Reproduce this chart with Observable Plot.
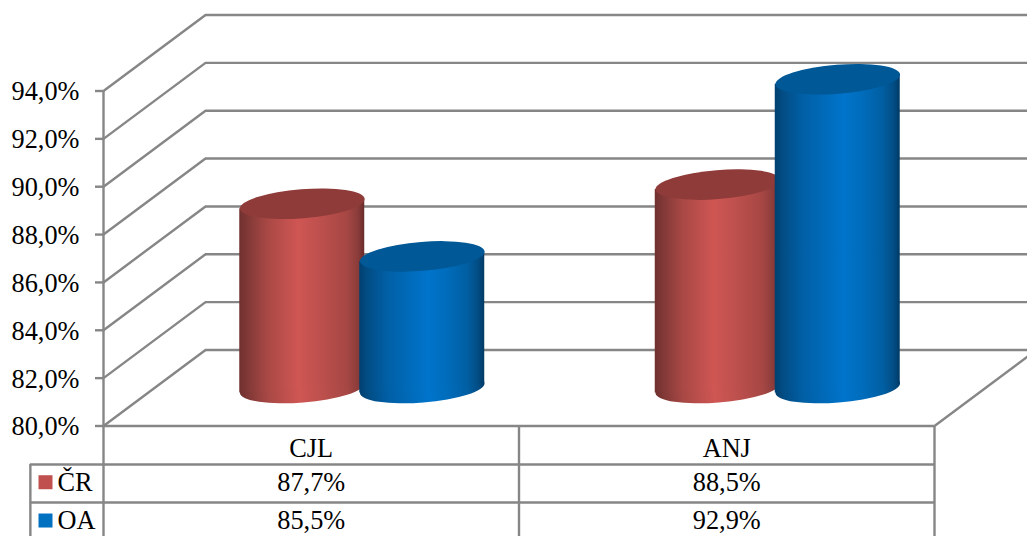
<!DOCTYPE html>
<html>
<head>
<meta charset="utf-8">
<style>
html,body{margin:0;padding:0;background:#fff;overflow:hidden}
</style>
<script src="https://cdn.jsdelivr.net/npm/d3@7"></script>
<script src="https://cdn.jsdelivr.net/npm/@observablehq/plot@0.6"></script>
</head>
<body>
<div id="chart"></div>
<script>
const categories = ["CJL", "ANJ"];
const crValues = [87.7, 88.5];
const oaValues = [85.5, 92.9];
const yTicks = [80, 82, 84, 86, 88, 90, 92, 94];

// 3D view parameters, expressed in scale units
const depthX = 0.2455, depthY = 3.176;
const halfBar = 0.1504, barOffset = 0.1444, tilt = 0.209;
const rowLines = [80, 78.39, 76.8];
const tableBottom = 75;
const rowLeft = -0.176;
const grid = "#868686";
const font = "Liberation Serif";
const fmt = v => v.toFixed(1).replace(".", ",") + "%";

const series = [
  {name: "ČR", values: crValues, side: -1, grad: "gradRed", top: "#8f3b39", key: "#c0504d", textY: 77.65},
  {name: "OA", values: oaValues, side: 1, grad: "gradBlue", top: "#005896", key: "#0070c0", textY: 76.05}
];

function defsMark() {
  const defs = d3.create("svg:defs");
  const add = (id, stops) => {
    const g = defs.append("linearGradient").attr("id", id).attr("x1", 0).attr("x2", 1).attr("y1", 0).attr("y2", 0);
    stops.forEach(([o, c]) => g.append("stop").attr("offset", o).attr("stop-color", c));
  };
  add("gradRed", [[0, "#6f302e"], [0.06, "#7f3836"], [0.22, "#a84845"], [0.47, "#cf5653"], [0.62, "#c0514e"], [0.86, "#a64744"], [0.95, "#8a3c3a"], [1, "#682c2a"]]);
  add("gradBlue", [[0, "#01406f"], [0.06, "#024c83"], [0.22, "#015fa5"], [0.55, "#0074cb"], [0.7, "#006cbb"], [0.86, "#015fa3"], [0.95, "#024d84"], [1, "#013a66"]]);
  return defs.node();
}

function ellipse(index, scales, values, dims, ctx, next) {
  const g = next(index, scales, values, dims, ctx);
  d3.select(g).selectAll("circle").attr("transform", function () {
    const cx = +this.getAttribute("cx"), cy = +this.getAttribute("cy");
    return `translate(${cx},${cy}) rotate(-4.57) scale(1,0.232) translate(${-cx},${-cy})`;
  });
  return g;
}

function cylinderMarks(s) {
  const bars = s.values.map((v, i) => ({c: i + 0.5 + depthX / 2 + s.side * barOffset, v, i}));
  const base = 80 + depthY / 2;
  const body = bars.flatMap(b => [
    {i: b.i, x: b.c - halfBar, y1: base - tilt, y2: b.v + depthY / 2 - tilt},
    {i: b.i, x: b.c + halfBar, y1: base + tilt, y2: b.v + depthY / 2 + tilt}
  ]);
  return [
    Plot.dot(bars, {x: "c", y: () => base, r: 62.5, fill: `url(#${s.grad})`, render: ellipse}),
    Plot.areaY(body, {x: "x", y1: "y1", y2: "y2", z: "i", fill: `url(#${s.grad})`}),
    Plot.dot(bars, {x: "c", y: b => b.v + depthY / 2, r: 62.5, fill: s.top, render: ellipse})
  ];
}

const line = {stroke: grid, strokeWidth: 2.4};

const chart = Plot.plot({
  width: 1027,
  height: 536,
  marginLeft: 103,
  marginRight: 93,
  marginTop: 90.5,
  marginBottom: 110.5,
  style: {fontFamily: font, background: "#fff", overflow: "hidden", color: "#000"},
  x: {domain: [0, 2], range: [103, 934], axis: null},
  y: {domain: [80, 94], range: [425.5, 90.5], axis: null},
  marks: [
    defsMark,
    // back wall and side wall
    Plot.ruleY(yTicks, {y: d => d + depthY, x1: depthX, x2: 2 + depthX, ...line}),
    Plot.link(yTicks, {x1: 0, x2: depthX, y1: d => d, y2: d => d + depthY, ...line}),
    Plot.link([80], {x1: 2, x2: 2 + depthX, y1: d => d, y2: d => d + depthY, ...line}),
    // cylinders
    ...series.flatMap(cylinderMarks),
    // y axis
    Plot.ruleY(yTicks, {x1: -0.0193, x2: 0, ...line}),
    Plot.axisY(yTicks, {tickSize: 0, tickPadding: 24, tickFormat: fmt, fontSize: 26.3, label: null, dy: 1, fontVariant: "normal"}),
    // data table
    Plot.ruleY([80], {x1: 0, x2: 2, ...line}),
    Plot.ruleY(rowLines.slice(1), {x1: rowLeft, x2: 2, ...line}),
    Plot.ruleX([0, 1, 2], {y1: d => d === 0 ? 94 : 80, y2: tableBottom, ...line}),
    Plot.ruleX([rowLeft], {y1: rowLines[1], y2: tableBottom, ...line}),
    Plot.text(categories, {x: (d, i) => i + 0.5, y: 79.2, text: d => d, fontSize: 26.3, dy: 3, fill: "#000"}),
    ...series.flatMap(s => [
      Plot.dot([s.name], {x: 0, y: s.textY, dx: -58, symbol: "square", r: 7.9, fill: s.key}),
      Plot.text([s.name], {x: 0, y: s.textY, dx: -46, text: d => d, textAnchor: "start", fontSize: 26.3, fill: "#000"}),
      Plot.text(s.values, {x: (d, i) => i + 0.5, y: s.textY, text: fmt, fontSize: 26.3, fill: "#000"})
    ])
  ]
});
document.getElementById("chart").appendChild(chart);
</script>
</body>
</html>
